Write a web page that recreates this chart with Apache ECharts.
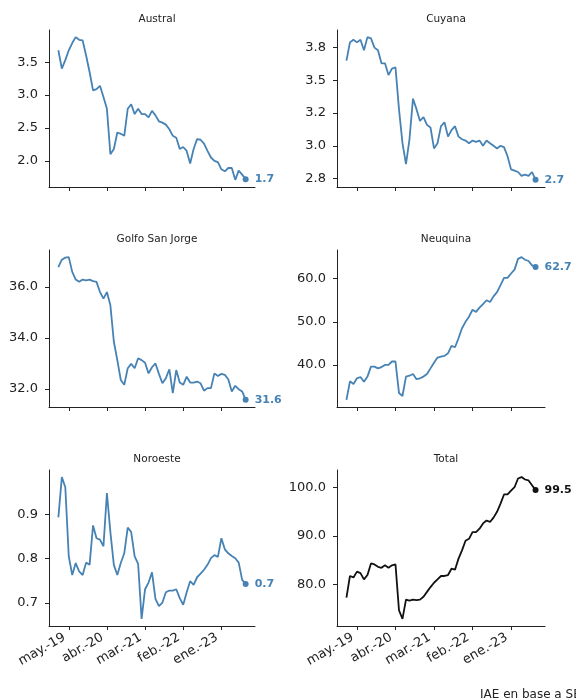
<!DOCTYPE html>
<html>
<head>
<meta charset="utf-8">
<script src="https://cdn.jsdelivr.net/npm/echarts@6/dist/echarts.min.js"></script>
<style>
html,body{margin:0;padding:0;background:#fff;}
#c{width:576px;height:698px;}
</style>
</head>
<body>
<div id="c"></div>
<script>
// Monthly categories: feb.-19 .. ago.-23 (55 months)
const monthAbbr = ['ene.','feb.','mar.','abr.','may.','jun.','jul.','ago.','sep.','oct.','nov.','dic.'];
const months = [];
for (let k = 0; k < 55; k++) { const m = (1 + k) % 12; const y = 19 + Math.floor((1 + k) / 12); months.push(monthAbbr[m] + '-' + y); }
const xTickIdx = [3, 14, 25, 36, 47];
const xTickLabels = ['may.-19', 'abr.-20', 'mar.-21', 'feb.-22', 'ene.-23'];

const titles = ['Austral', 'Cuyana', 'Golfo San Jorge', 'Neuquina', 'Noroeste', 'Total'];

const austral = [3.68,3.40,3.53,3.68,3.79,3.88,3.84,3.83,3.60,3.35,3.07,3.09,3.14,2.97,2.79,2.10,2.18,2.43,2.41,2.38,2.79,2.86,2.71,2.79,2.71,2.71,2.66,2.76,2.69,2.60,2.58,2.55,2.48,2.38,2.35,2.18,2.21,2.15,1.96,2.18,2.33,2.32,2.26,2.15,2.05,2.00,1.98,1.87,1.84,1.89,1.89,1.71,1.85,1.79,1.72];
const cuyana = [3.65,3.79,3.81,3.79,3.81,3.73,3.83,3.82,3.75,3.73,3.63,3.63,3.54,3.59,3.60,3.28,3.02,2.86,3.05,3.36,3.28,3.19,3.22,3.16,3.14,2.98,3.02,3.15,3.18,3.07,3.12,3.15,3.07,3.05,3.04,3.02,3.04,3.03,3.04,3.00,3.04,3.02,3.00,2.98,3.00,2.99,2.92,2.82,2.81,2.80,2.77,2.78,2.77,2.80,2.74];
const golfo = [36.78,37.07,37.15,37.17,36.59,36.29,36.20,36.29,36.26,36.29,36.23,36.20,35.80,35.54,35.80,35.28,33.85,33.13,32.35,32.16,32.81,32.98,32.81,33.20,33.13,33.03,32.61,32.85,33.00,32.59,32.22,32.42,32.77,31.83,32.74,32.25,32.16,32.48,32.25,32.25,32.29,32.22,31.93,32.03,32.03,32.61,32.51,32.59,32.55,32.38,31.90,32.12,31.99,31.90,31.57];
const neuquina = [31.9,36.2,35.6,36.9,37.2,36.1,37.3,39.6,39.6,39.2,39.5,40.0,40.0,40.8,40.8,33.5,32.8,37.3,37.5,37.9,36.7,36.9,37.3,37.9,39.2,40.5,41.7,41.9,42.1,42.7,44.4,44.1,46.2,48.5,50.0,51.2,52.8,52.3,53.3,54.1,55.0,54.6,55.9,56.9,58.5,60.2,60.2,61.2,62.1,64.6,65.0,64.4,64.1,63.1,62.7];
const noroeste = [0.893,0.984,0.961,0.805,0.763,0.790,0.771,0.763,0.791,0.786,0.875,0.846,0.843,0.828,0.948,0.860,0.786,0.763,0.790,0.812,0.870,0.860,0.805,0.788,0.664,0.731,0.746,0.769,0.709,0.693,0.701,0.724,0.728,0.728,0.731,0.711,0.696,0.724,0.749,0.741,0.758,0.766,0.775,0.786,0.801,0.808,0.804,0.846,0.821,0.812,0.806,0.801,0.791,0.752,0.743];
const total = [77.2,81.7,81.4,82.6,82.3,81.0,81.9,84.3,84.1,83.6,83.4,83.9,83.4,83.9,84.1,74.6,72.8,76.8,76.6,76.8,76.7,76.8,77.4,78.4,79.4,80.3,81.0,81.7,81.7,81.9,83.2,83.0,85.3,87.0,89.0,89.4,90.8,90.8,91.5,92.6,93.2,92.9,93.8,95.0,96.7,98.6,98.6,99.4,100.1,101.9,102.2,101.7,101.5,100.5,99.5];

const yTicks = [[2.0,2.5,3.0,3.5],[2.75,3.0,3.25,3.5,3.75],[32,34,36],[40,50,60],[0.7,0.8,0.9],[80,90,100]];
const yTickLabels = [['2.0','2.5','3.0','3.5'],['2.8','3.0','3.2','3.5','3.8'],['32.0','34.0','36.0'],['40.0','50.0','60.0'],['0.7','0.8','0.9'],['80.0','90.0','100.0']];

const seriesData = [austral, cuyana, golfo, neuquina, noroeste, total];
const colors = ['#4682b4','#4682b4','#4682b4','#4682b4','#4682b4','#111111'];
const sourceText = 'IAE en base a SE';

const FONT = 'DejaVu Sans';
const gridPos = [
  {left: 49, top: 30, width: 206, height: 157},
  {left: 337, top: 30, width: 208, height: 157},
  {left: 49, top: 250, width: 206, height: 157},
  {left: 337, top: 250, width: 208, height: 157},
  {left: 49, top: 470, width: 206, height: 156},
  {left: 337, top: 470, width: 208, height: 156}
];

const chart = echarts.init(document.getElementById('c'), null, {renderer: 'canvas'});
const grids = [], xAxes = [], yAxes = [], series = [], titleArr = [];
for (let p = 0; p < 6; p++) {
  const g = gridPos[p];
  grids.push({left: g.left, top: g.top, width: g.width, height: g.height});
  titleArr.push({text: titles[p], left: g.left + g.width / 2, top: g.top - 21, textAlign: 'center',
    textStyle: {fontFamily: FONT, fontSize: 10.5, fontWeight: 'normal', color: '#222'}});
  const bottomRow = p >= 4;
  xAxes.push({type: 'value', gridIndex: p, min: -2.7, max: 56.7,
    axisLine: {show: true, onZero: false, lineStyle: {color: '#222', width: 1}},
    axisTick: {show: true, length: 4, customValues: xTickIdx, lineStyle: {color: '#222'}},
    splitLine: {show: false},
    axisLabel: {show: bottomRow, customValues: xTickIdx, rotate: 30, margin: 8, padding: [0, 5, 0, 0],
      fontFamily: FONT, fontSize: 13, color: '#222',
      formatter: v => xTickLabels[xTickIdx.indexOf(Math.round(v))] || ''}
  });
  const d = seriesData[p];
  yAxes.push({type: 'value', gridIndex: p,
    min: v => v.min - 0.05 * (v.max - v.min),
    max: v => v.max + 0.05 * (v.max - v.min),
    axisLine: {show: true, onZero: false, lineStyle: {color: '#222', width: 1}},
    axisTick: {show: true, length: 4, customValues: yTicks[p], lineStyle: {color: '#222'}},
    splitLine: {show: false},
    axisLabel: {customValues: yTicks[p], margin: 11, fontFamily: FONT, fontSize: 13, color: '#222',
      formatter: v => { const i = yTicks[p].findIndex(t => Math.abs(t - v) < 1e-9); return i >= 0 ? yTickLabels[p][i] : ''; }}
  });
  const last = d.length - 1;
  series.push({type: 'line', xAxisIndex: p, yAxisIndex: p,
    data: d.map((v, i) => i === last ? {value: [i, v], symbol: 'circle', symbolSize: 6} : {value: [i, v], symbol: 'none'}),
    showSymbol: true, showAllSymbol: true, animation: false,
    lineStyle: {color: colors[p], width: 1.8}, itemStyle: {color: colors[p]},
    endLabel: {show: true, distance: 9, formatter: () => d[last].toFixed(1),
      fontFamily: FONT, fontSize: 11, fontWeight: 'bold', color: colors[p]}
  });
}
titleArr.push({text: sourceText, left: 475, top: 684, textStyle: {fontFamily: FONT, fontSize: 12, fontWeight: 'normal', color: '#222'}});

chart.setOption({
  animation: false,
  title: titleArr,
  grid: grids,
  xAxis: xAxes,
  yAxis: yAxes,
  series: series
});
</script>
</body>
</html>
